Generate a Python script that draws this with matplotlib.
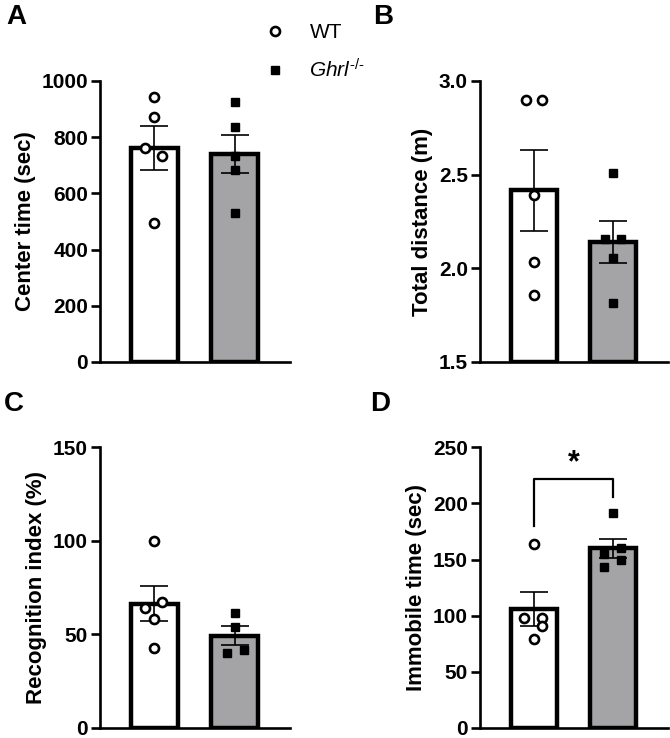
import numpy as np
import matplotlib
matplotlib.use("Agg")
import matplotlib.pyplot as plt

plt.rcParams["font.family"] = ["Liberation Sans", "DejaVu Sans"]
plt.rcParams["mathtext.fontset"] = "custom"
plt.rcParams["mathtext.rm"] = "Liberation Sans"
plt.rcParams["mathtext.it"] = "Liberation Sans:italic"

groups = ["WT", "Ghrl-/-"]

# individual animals
center_wt = [944, 873, 760, 734, 494]
center_ko = [923, 835, 731, 683, 529]
dist_wt = [2.90, 2.90, 2.39, 2.035, 1.857]
dist_ko = [2.51, 2.156, 2.156, 2.057, 1.816]
recog_wt = [100, 67.1, 63.9, 58.2, 42.5]
recog_ko = [61.5, 54.0, 41.6, 39.8]
immob_wt = [163.8, 98.2, 98.2, 90.8, 78.9]
immob_ko = [191.4, 160.2, 155.1, 149.7, 142.9]

ylabels = ["Center time (sec)", "Total distance (m)",
           "Recognition index (%)", "Immobile time (sec)"]
yticks_a = [0, 200, 400, 600, 800, 1000]
yticks_b = [1.5, 2.0, 2.5, 3.0]
yticks_c = [0, 50, 100, 150]
yticks_d = [0, 50, 100, 150, 200, 250]

GREY = "#a4a4a7"

fig = plt.figure(figsize=(6.7, 7.38), dpi=100)
axA = fig.add_axes([0.149, 0.5095, 0.284, 0.381])
axB = fig.add_axes([0.716, 0.5095, 0.281, 0.381])
axC = fig.add_axes([0.149, 0.014, 0.284, 0.3797])
axD = fig.add_axes([0.716, 0.014, 0.281, 0.3797])


def panel(ax, wt, ko, jit_wt, jit_ko, yt, ylab, fmt="{:g}"):
    bottom = yt[0]
    handles = []
    for i, (vals, jit, col, mk) in enumerate(
            [(wt, jit_wt, "white", "o"), (ko, jit_ko, GREY, "s")]):
        v = np.array(vals, dtype=float)
        m = v.mean()
        sem = v.std(ddof=1) / np.sqrt(len(v))
        ax.bar(i, m - bottom, bottom=bottom, width=0.58, color=col,
               edgecolor="black", linewidth=3.2, zorder=2)
        ax.errorbar(i, m, yerr=sem, fmt="none", ecolor="black",
                    elinewidth=1.2, capsize=10, capthick=1.2, zorder=3)
        x = i + np.array(jit)
        if mk == "o":
            h, = ax.plot(x, v, "o", ms=6.5, mfc="white", mec="black",
                         mew=1.9, ls="none", zorder=4, clip_on=False)
        else:
            h, = ax.plot(x, v, "s", ms=5.6, mfc="black", mec="black",
                         ls="none", zorder=4, clip_on=False)
        handles.append(h)
    ax.set_xlim(-0.68, 1.69)
    ax.set_ylim(yt[0], yt[-1])
    ax.set_yticks(yt)
    ax.set_yticklabels([fmt.format(t) for t in yt])
    ax.set_xticks([])
    for s in ["top", "right"]:
        ax.spines[s].set_visible(False)
    for s in ["left", "bottom"]:
        ax.spines[s].set_linewidth(1.9)
    ax.tick_params(axis="y", width=1.9, length=6.5, pad=2,
                   labelsize=15)
    for lab in ax.get_yticklabels():
        lab.set_fontweight("bold")
    ax.set_ylabel(ylab, fontsize=16, fontweight="bold", labelpad=4)
    return handles


hA = panel(axA, center_wt, center_ko, [0, 0, -0.12, 0.09, 0],
           [0, 0, 0, 0, 0], yticks_a, ylabels[0])
panel(axB, dist_wt, dist_ko, [-0.1, 0.1, 0, 0, 0],
      [0, -0.1, 0.1, 0, 0], yticks_b, ylabels[1], fmt="{:.1f}")
panel(axC, recog_wt, recog_ko, [0, 0.1, -0.12, 0, 0],
      [0, 0, 0.11, -0.1], yticks_c, ylabels[2])
panel(axD, immob_wt, immob_ko, [0, -0.12, 0.1, 0.1, 0],
      [0, 0.1, -0.12, 0.1, -0.12], yticks_d, ylabels[3])

# significance bracket in D
axD.plot([0, 0, 1, 1], [179.5, 221.8, 221.8, 206], color="black",
         lw=1.6, zorder=5, clip_on=False)
axD.text(0.5, 236, "*", ha="center", va="center", fontsize=22,
         fontweight="bold")

# panel letters
for lbl, x, y in [("A", 0.01, 0.977), ("B", 0.557, 0.977),
                  ("C", 0.006, 0.452), ("D", 0.553, 0.452)]:
    fig.text(x, y, lbl, fontsize=20, fontweight="bold", va="center")

fig.legend(hA, ["WT", r"$\mathit{Ghrl}^{\text{-/-}}$"], loc="upper left",
           bbox_to_anchor=(0.367, 0.9945), frameon=False, fontsize=15,
           handletextpad=1.15, labelspacing=0.8, handlelength=1.0)

fig.savefig("out.png", dpi=100)
